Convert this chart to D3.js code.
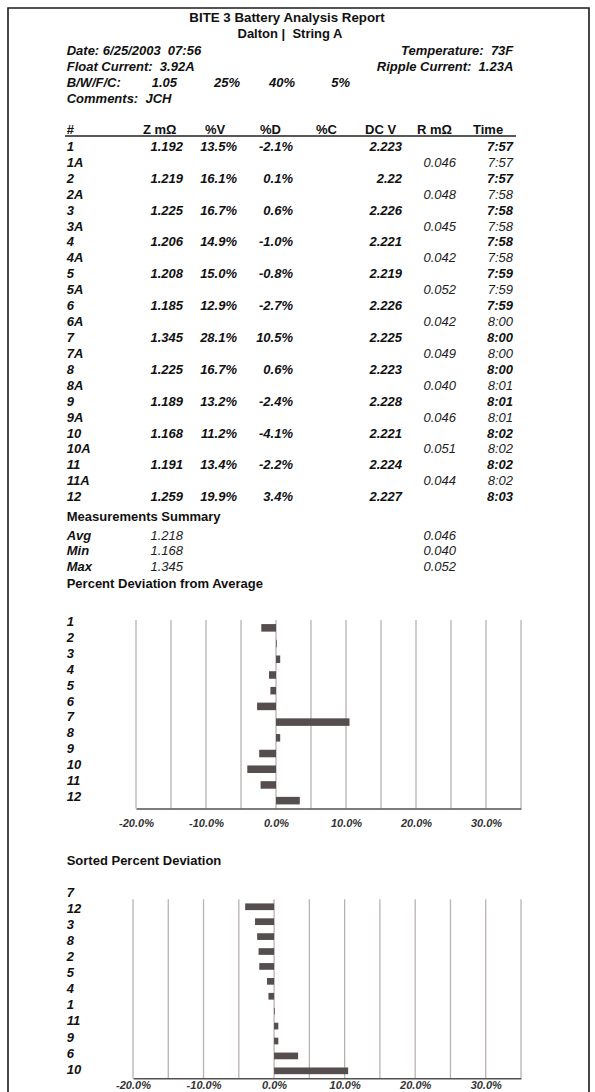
<!DOCTYPE html>
<html>
<head>
<meta charset="utf-8">
<script src="https://cdn.jsdelivr.net/npm/d3@7"></script>
<style>
  html, body { margin: 0; padding: 0; background: #fff; }
  svg { display: block; }
  text { font-family: "Liberation Sans", Arial, Helvetica, sans-serif; fill: #111; white-space: pre; }
</style>
</head>
<body>
<svg id="report" width="595" height="1092"></svg>
<script>
// ---- Report data ----
const cells      = ["1", "2", "3", "4", "5", "6", "7", "8", "9", "10", "11", "12"];
const impedance  = [1.192, 1.219, 1.225, 1.206, 1.208, 1.185, 1.345, 1.225, 1.189, 1.168, 1.191, 1.259];
const pctV       = [13.5, 16.1, 16.7, 14.9, 15.0, 12.9, 28.1, 16.7, 13.2, 11.2, 13.4, 19.9];
const pctD       = [-2.1, 0.1, 0.6, -1.0, -0.8, -2.7, 10.5, 0.6, -2.4, -4.1, -2.2, 3.4];
const dcVolts    = [2.223, 2.22, 2.226, 2.221, 2.219, 2.226, 2.225, 2.223, 2.228, 2.221, 2.224, 2.227];
const cellTimes  = ["7:57", "7:57", "7:58", "7:58", "7:59", "7:59", "8:00", "8:00", "8:01", "8:02", "8:02", "8:03"];
const straps     = ["1A", "2A", "3A", "4A", "5A", "6A", "7A", "8A", "9A", "10A", "11A"];
const strapR     = [0.046, 0.048, 0.045, 0.042, 0.052, 0.042, 0.049, 0.040, 0.046, 0.051, 0.044];
const strapTimes = ["7:57", "7:58", "7:58", "7:58", "7:59", "8:00", "8:00", "8:01", "8:01", "8:02", "8:02"];
const summaryLabels = ["Avg", "Min", "Max"];
const summaryZ      = [1.218, 1.168, 1.345];
const summaryR      = [0.046, 0.040, 0.052];
const xTicks     = [-20, -10, 0, 10, 20, 30];
const xGrid      = [-20, -15, -10, -5, 0, 5, 10, 15, 20, 25, 30, 35];

const svg = d3.select("#report");
const FONT = 13;
const base = c => c + 0.36 * FONT;   // baseline for a text row centred at c

function txt(g, x, y, s, opts = {}) {
  return g.append("text")
    .attr("x", x).attr("y", y)
    .attr("text-anchor", opts.anchor || "start")
    .style("font-size", (opts.size || FONT) + "px")
    .style("font-weight", opts.weight || "bold")
    .style("font-style", opts.style || "normal")
    .style("fill", opts.fill || "#111")
    .text(s);
}

// page frame
svg.append("path")
  .attr("d", "M8,1100V8H589V1100")
  .attr("fill", "none").attr("stroke", "#1b1b1b").attr("stroke-width", 1.6);

// ---- heading ----
const head = svg.append("g");
txt(head, 287, 22, "BITE 3 Battery Analysis Report", { anchor: "middle", size: 13.3 });
txt(head, 290, 38, "Dalton |  String A", { anchor: "middle" });
const it = { style: "italic" };
txt(head, 66.7, base(50), "Date: 6/25/2003  07:56", it);
txt(head, 513.3, base(50), "Temperature:  73F", { style: "italic", anchor: "end" });
txt(head, 66.7, base(66), "Float Current:  3.92A", it);
txt(head, 513.3, base(66), "Ripple Current:  1.23A", { style: "italic", anchor: "end" });
txt(head, 66.7, base(82), "B/W/F/C:", it);
txt(head, 177, base(82), "1.05", { style: "italic", anchor: "end" });
txt(head, 240, base(82), "25%", { style: "italic", anchor: "end" });
txt(head, 295, base(82), "40%", { style: "italic", anchor: "end" });
txt(head, 350, base(82), "5%", { style: "italic", anchor: "end" });
txt(head, 66.7, base(98), "Comments:  JCH", it);

// ---- measurement table ----
const table = svg.append("g");
const headers = [["#", 66.7], ["Z m\u03A9", 143], ["%V", 205], ["%D", 260], ["%C", 316],
                 ["DC V", 365], ["R m\u03A9", 417], ["Time", 473]];
headers.forEach(([h, x]) => txt(table, x, 133.6, h));
table.append("line").attr("x1", 65).attr("x2", 516).attr("y1", 136).attr("y2", 136)
  .attr("stroke", "#222").attr("stroke-width", 1.5);

const col = { id: 66.7, z: 183, v: 237, d: 293, dc: 402, r: 456, t: 513 };
const pct = v => v.toFixed(1) + "%";
const rows = [];
cells.forEach((c, i) => {
  rows.push({ kind: "cell", i });
  if (i < straps.length) rows.push({ kind: "strap", i });
});
const rowY = d3.scaleLinear().domain([0, 22]).range([146.3, 496.5]);

rows.forEach((r, k) => {
  const y = base(rowY(k));
  if (r.kind === "cell") {
    txt(table, col.id, y, cells[r.i], it);
    txt(table, col.z, y, impedance[r.i].toFixed(3), { style: "italic", anchor: "end" });
    txt(table, col.v, y, pct(pctV[r.i]), { style: "italic", anchor: "end" });
    txt(table, col.d, y, pct(pctD[r.i]), { style: "italic", anchor: "end" });
    txt(table, col.dc, y, String(dcVolts[r.i]), { style: "italic", anchor: "end" });
    txt(table, col.t, y, cellTimes[r.i], { style: "italic", anchor: "end" });
  } else {
    txt(table, col.id, y, straps[r.i], it);
    txt(table, col.r, y, strapR[r.i].toFixed(3), { style: "italic", anchor: "end", weight: "normal", fill: "#222" });
    txt(table, col.t, y, strapTimes[r.i], { style: "italic", anchor: "end", weight: "normal", fill: "#222" });
  }
});

// ---- summary ----
txt(table, 66.7, base(516.7), "Measurements Summary");
summaryLabels.forEach((l, i) => {
  const y = base(535 + 15.8 * i);
  txt(table, 66.7, y, l, it);
  txt(table, col.z, y, summaryZ[i].toFixed(3), { style: "italic", anchor: "end", weight: "normal", fill: "#222" });
  txt(table, col.r, y, summaryR[i].toFixed(3), { style: "italic", anchor: "end", weight: "normal", fill: "#222" });
});

// ---- deviation bar charts ----
function devChart(cfg) {
  const g = svg.append("g");
  txt(g, 66.7, base(cfg.titleY), cfg.title);

  const x = d3.scaleLinear().domain([-20, 35]).range(cfg.xRange);
  const y = d3.scaleBand().domain(d3.range(cfg.values.length))
    .range([cfg.top, cfg.bottom]).paddingInner(cfg.pad).paddingOuter(cfg.pad / 2);

  g.selectAll("line.grid").data(xGrid).join("line")
    .attr("class", "grid")
    .attr("x1", d => x(d)).attr("x2", d => x(d))
    .attr("y1", cfg.top).attr("y2", cfg.bottom)
    .attr("stroke", "#b9b2b0").attr("stroke-width", 1.3);

  g.selectAll("rect.bar").data(cfg.values).join("rect")
    .attr("class", "bar")
    .attr("x", d => x(Math.min(0, d)))
    .attr("width", d => Math.abs(x(d) - x(0)))
    .attr("y", (d, i) => y(i))
    .attr("height", y.bandwidth())
    .attr("fill", "#564e4e");

  // axis along the bottom edge
  const axis = d3.axisBottom(x).tickValues(xTicks).tickSize(0)
    .tickFormat(d => d.toFixed(1) + "%");
  const ax = g.append("g").attr("transform", `translate(0,${cfg.bottom})`).call(axis);
  ax.select(".domain").attr("stroke", "#555050").attr("stroke-width", 1.6);
  ax.selectAll(".tick text")
    .attr("y", cfg.tickY - cfg.bottom + 4).attr("dy", null)
    .style("font-size", "11px").style("font-style", "italic").style("font-weight", "bold")
    .style("fill", "#333")
    .style("font-family", "'Liberation Sans', Arial, sans-serif");

  // category labels down the left side
  const ly = d3.scaleLinear().domain([0, cfg.labels.length - 1]).range(cfg.labelRange);
  cfg.labels.forEach((l, i) => txt(g, 66.7, base(ly(i)), l, it));
}

devChart({
  title: "Percent Deviation from Average", titleY: 583,
  labels: cells, values: pctD,
  top: 620, bottom: 808.5, xRange: [136, 521], pad: 0.52,
  labelRange: [621.7, 796], tickY: 822.7
});

// sorted view: names ordered by deviation high to low, bars low to high
const order = d3.range(cells.length).sort((a, b) => d3.descending(pctD[a], pctD[b]));
const sortedLabels = order.map(i => cells[i]);
const sortedValues = d3.sort(pctD, d3.ascending);

devChart({
  title: "Sorted Percent Deviation", titleY: 860.7,
  labels: sortedLabels, values: sortedValues,
  top: 899.3, bottom: 1078.3, xRange: [133, 521], pad: 0.55,
  labelRange: [892.3, 1069], tickY: 1085.5
});
</script>
</body>
</html>
